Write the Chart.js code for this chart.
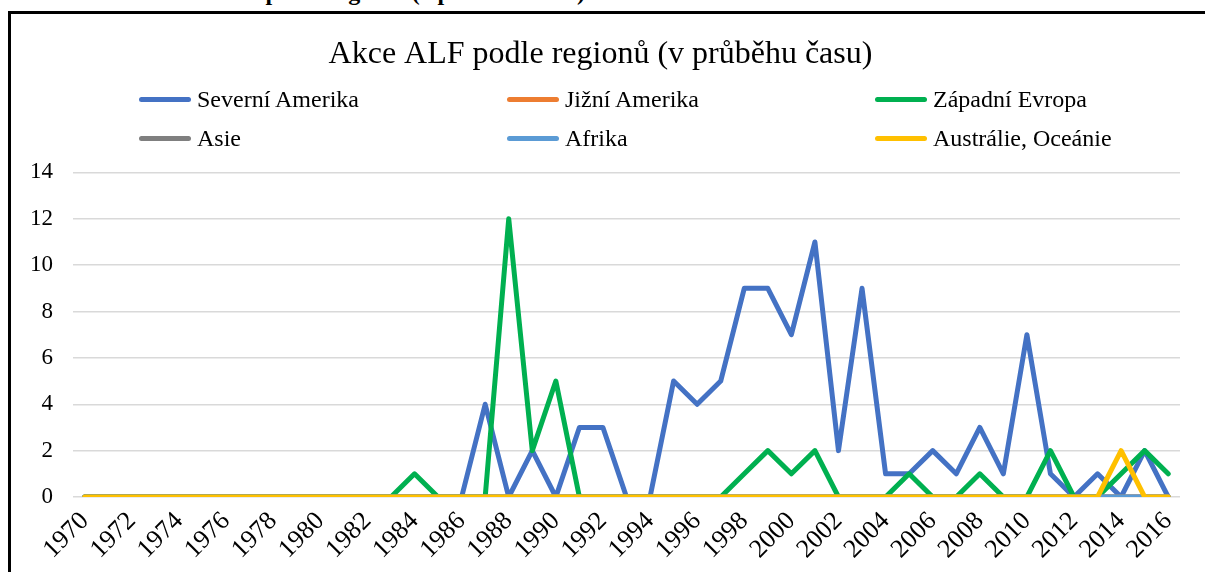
<!DOCTYPE html>
<html>
<head>
<meta charset="utf-8">
<script src="https://cdn.jsdelivr.net/npm/chart.js@4.4.1/dist/chart.umd.min.js"></script>
<style>
	body { margin: 0; background: #fff; overflow: hidden; width: 1205px; height: 572px; position: relative; font-family: 'Liberation Serif', 'Times New Roman', serif; }
	#caption { position: absolute; left: 0; width: 585px; top: -20px; font-size: 24px; line-height: 24px; font-weight: bold; text-align: right; white-space: nowrap; }
	#frame { position: absolute; left: 8px; top: 11px; width: 1240px; height: 600px; border-left: 3px solid #000; border-top: 3px solid #000; }
	#lineChart { position: absolute; left: 0; top: 0; }
	#legend { position: absolute; left: 139px; top: 80px; display: grid; grid-template-columns: 368px 368px 368px; grid-auto-rows: 39px; }
	.item { display: flex; align-items: center; font-size: 24px; color: #000; white-space: nowrap; }
	.item span { display: inline-block; width: 52px; height: 5px; border-radius: 3px; margin-right: 6px; }
</style>
</head>
<body>
<div id="caption">Akce ALF podle regionů (v průběhu času)</div>
<div id="frame"><canvas id="lineChart" width="1205" height="580"></canvas></div>
<div id="legend"></div>
<script>
const years = ['1970', '1971', '1972', '1973', '1974', '1975', '1976', '1977', '1978', '1979',
	'1980', '1981', '1982', '1983', '1984', '1985', '1986', '1987', '1988', '1989',
	'1990', '1991', '1992', '1993', '1994', '1995', '1996', '1997', '1998', '1999',
	'2000', '2001', '2002', '2003', '2004', '2005', '2006', '2007', '2008', '2009',
	'2010', '2011', '2012', '2013', '2014', '2015', '2016'];

const yTicks = [0, 2, 4, 6, 8, 10, 12, 14];

const regions = ['Severní Amerika', 'Jižní Amerika', 'Západní Evropa', 'Asie', 'Afrika', 'Austrálie, Oceánie'];

const severniAmerika = [0, 0, 0, 0, 0, 0, 0, 0, 0, 0,
	0, 0, 0, 0, 0, 0, 0, 4, 0, 2,
	0, 3, 3, 0, 0, 5, 4, 5, 9, 9,
	7, 11, 2, 9, 1, 1, 2, 1, 3, 1,
	7, 1, 0, 1, 0, 2, 0];
const jizniAmerika = [0, 0, 0, 0, 0, 0, 0, 0, 0, 0,
	0, 0, 0, 0, 0, 0, 0, 0, 0, 0,
	0, 0, 0, 0, 0, 0, 0, 0, 0, 0,
	0, 0, 0, 0, 0, 0, 0, 0, 0, 0,
	0, 0, 0, 0, 0, 0, 0];
const zapadniEvropa = [0, 0, 0, 0, 0, 0, 0, 0, 0, 0,
	0, 0, 0, 0, 1, 0, 0, 0, 12, 2,
	5, 0, 0, 0, 0, 0, 0, 0, 1, 2,
	1, 2, 0, 0, 0, 1, 0, 0, 1, 0,
	0, 2, 0, 0, 1, 2, 1];
const asie = [0, 0, 0, 0, 0, 0, 0, 0, 0, 0,
	0, 0, 0, 0, 0, 0, 0, 0, 0, 0,
	0, 0, 0, 0, 0, 0, 0, 0, 0, 0,
	0, 0, 0, 0, 0, 0, 0, 0, 0, 0,
	0, 0, 0, 0, 0, 0, 0];
const afrika = [0, 0, 0, 0, 0, 0, 0, 0, 0, 0,
	0, 0, 0, 0, 0, 0, 0, 0, 0, 0,
	0, 0, 0, 0, 0, 0, 0, 0, 0, 0,
	0, 0, 0, 0, 0, 0, 0, 0, 0, 0,
	0, 0, 0, 0, 0, 0, 0];
const australie = [0, 0, 0, 0, 0, 0, 0, 0, 0, 0,
	0, 0, 0, 0, 0, 0, 0, 0, 0, 0,
	0, 0, 0, 0, 0, 0, 0, 0, 0, 0,
	0, 0, 0, 0, 0, 0, 0, 0, 0, 0,
	0, 0, 0, 0, 2, 0, 0];

const seriesValues = [severniAmerika, jizniAmerika, zapadniEvropa, asie, afrika, australie];
const colors = ['#4472C4', '#ED7D31', '#00B050', '#7F7F7F', '#5B9BD5', '#FFC000'];

const fontFamily = "'Liberation Serif', 'Times New Roman', serif";

// later series drawn on top, like in Excel
const datasets = regions.map((name, i) => ({
	label: name,
	data: seriesValues[i],
	borderColor: colors[i],
	backgroundColor: colors[i],
	borderWidth: 5,
	pointRadius: 0,
	tension: 0,
	fill: false,
	borderJoinStyle: 'round',
	borderCapStyle: 'round',
	order: regions.length - i,
}));

const config = {
	type: 'line',
	data: { labels: years, datasets: datasets },
	options: {
		responsive: false,
		animation: false,
		layout: { padding: { left: 10, right: 36, top: 0, bottom: 17 } },
		plugins: {
			legend: { display: false },
			tooltip: { enabled: false },
			title: {
				display: true,
				text: 'Akce ALF podle regionů (v průběhu času)',
				color: '#000',
				font: { family: fontFamily, size: 32, weight: 'normal' },
				padding: { top: 21, bottom: 99 },
			},
		},
		scales: {
			x: {
				offset: true,
				grid: { display: false, drawTicks: false },
				border: { display: false },
				ticks: {
					autoSkip: false,
					minRotation: 45,
					maxRotation: 45,
					padding: 9,
					color: '#000',
					font: { family: fontFamily, size: 26 },
					callback: (v, i) => (i % 2 === 0 ? years[i] : ''),
				},
				afterFit: (scale) => { scale.height = 80; },
			},
			y: {
				min: 0,
				max: 14,
				border: { display: false },
				grid: {
					drawTicks: false,
					lineWidth: 1.5,
					color: (ctx) => (yTicks.includes(ctx.tick.value) ? '#d9d9d9' : '#f2f2f2'),
				},
				ticks: {
					stepSize: 1,
					padding: 20,
					color: '#000',
					font: { family: fontFamily, size: 23 },
					callback: (v) => (yTicks.includes(v) ? v : ''),
				},
				afterFit: (scale) => { scale.width = 52; },
			},
		},
	},
};

const ctx = document.getElementById('lineChart').getContext('2d');
const myChart = new Chart(ctx, config);

//Legend in three columns
const legend = document.getElementById('legend');
datasets.forEach((ds) => {
	const item = document.createElement('div');
	item.className = 'item';
	const line = document.createElement('span');
	line.style.background = ds.borderColor;
	item.appendChild(line);
	item.appendChild(document.createTextNode(ds.label));
	legend.appendChild(item);
});
</script>
</body>
</html>
